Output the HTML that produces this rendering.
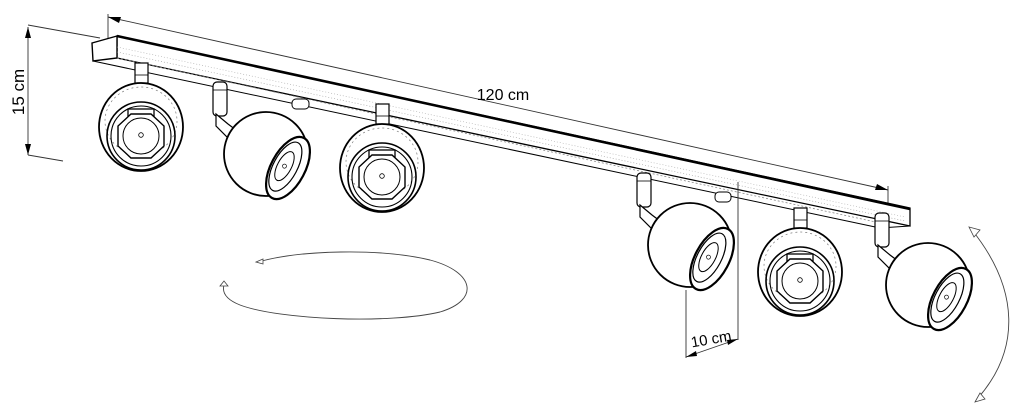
<!DOCTYPE html>
<html><head><meta charset="utf-8"><style>
html,body{margin:0;padding:0;background:#fff;}
svg{display:block;}
text{font-family:"Liberation Sans",Arial,sans-serif;fill:#000;}
</style></head><body>
<svg width="1020" height="419" viewBox="0 0 1020 419" xmlns="http://www.w3.org/2000/svg">
<defs>
  <g id="front">
    <rect x="-6" y="-64" width="13" height="20" fill="#fff" stroke="#000" stroke-width="1.2"/>
    <line x1="-6" y1="-52" x2="7" y2="-52" stroke="#000" stroke-width="0.8"/>
    <ellipse cx="0" cy="0" rx="42" ry="44" fill="#fff" stroke="#000" stroke-width="1.8"/>
    <ellipse cx="0" cy="-6" rx="36" ry="34" fill="none" stroke="#777" stroke-width="0.7" stroke-dasharray="2 3"/>
    <rect x="-13" y="-18" width="26" height="10" fill="#fff" stroke="#000" stroke-width="1.3"/>
    <circle cx="0" cy="9" r="34" fill="none" stroke="#000" stroke-width="1.6"/>
    <circle cx="0" cy="9" r="30" fill="none" stroke="#000" stroke-width="1.1"/>
    <polygon points="-10,-13 10,-13 23,-1 23,19 10,31 -10,31 -23,19 -23,-1" fill="#fff" stroke="#000" stroke-width="1.4"/>
    <circle cx="0" cy="9" r="18" fill="none" stroke="#000" stroke-width="1"/>
    <circle cx="0" cy="8" r="2.3" fill="#fff" stroke="#000" stroke-width="0.8"/>
  </g>
  <g id="side">
    <rect x="-53" y="-72" width="14" height="34" rx="4" fill="#fff" stroke="#000" stroke-width="1.2"/>
    <line x1="-53" y1="-64" x2="-39" y2="-64" stroke="#000" stroke-width="0.8"/>
    <path d="M-50,-40 L-38,-30 L-30,-24 L-38,-16 L-50,-28 Z" fill="#fff" stroke="#000" stroke-width="1.2"/>
    <circle cx="0" cy="0" r="42" fill="#fff" stroke="#000" stroke-width="1.8"/>
    <g transform="translate(22,14) rotate(28)">
      <ellipse cx="0" cy="0" rx="17" ry="34" fill="#fff" stroke="#000" stroke-width="2.2"/>
      <ellipse cx="-3" cy="0" rx="12" ry="27" fill="none" stroke="#000" stroke-width="1.2"/>
      <ellipse cx="-4" cy="0" rx="7" ry="16" fill="none" stroke="#000" stroke-width="1"/>
      <circle cx="-4" cy="0" r="2" fill="none" stroke="#000" stroke-width="0.7"/>
    </g>
  </g>
</defs>

<!-- 15 cm dimension -->
<line x1="28" y1="25" x2="100" y2="38" stroke="#333" stroke-width="0.9"/>
<line x1="28" y1="155" x2="63" y2="161" stroke="#333" stroke-width="0.9"/>
<line x1="28" y1="27" x2="28" y2="155" stroke="#333" stroke-width="0.9"/>
<polygon points="28,27 25,38 31,38" fill="#000"/>
<polygon points="28,155 25,144 31,144" fill="#000"/>
<text transform="translate(24,92) rotate(-90)" font-size="17" text-anchor="middle">15 cm</text>

<!-- 120 cm dimension -->
<line x1="108" y1="14" x2="108" y2="38" stroke="#333" stroke-width="0.9"/>
<line x1="888" y1="186" x2="888" y2="206" stroke="#333" stroke-width="0.9"/>
<line x1="108" y1="17" x2="888" y2="190" stroke="#333" stroke-width="0.9"/>
<polygon points="108,17 121,17 119,23" fill="#000"/>
<polygon points="888,190 875,190 877,184" fill="#000"/>
<text x="503" y="100" font-size="16" text-anchor="middle">120 cm</text>

<!-- bar -->
<polygon points="117,36 910,208 910,226 117,58" fill="#fff" stroke="#000" stroke-width="1.3"/>
<line x1="117" y1="36" x2="910" y2="209" stroke="#000" stroke-width="2.6"/>
<polygon points="92,43 117,36 117,58 93,61" fill="#fff" stroke="#000" stroke-width="1.4"/>
<line x1="93" y1="61" x2="880" y2="228" stroke="#000" stroke-width="1"/>
<line x1="117" y1="58" x2="885" y2="224" stroke="#888" stroke-width="0.8" stroke-dasharray="2 2"/>
<line x1="117" y1="52" x2="905" y2="221" stroke="#999" stroke-width="0.6" stroke-dasharray="1 2"/>
<line x1="117" y1="47" x2="905" y2="217" stroke="#aaa" stroke-width="0.6" stroke-dasharray="1 2"/>
<line x1="880" y1="228" x2="910" y2="226" stroke="#000" stroke-width="1"/>
<!-- connectors -->
<rect x="292" y="99" width="17" height="10" rx="4" fill="#fff" stroke="#000" stroke-width="1"/>
<rect x="715" y="192" width="16" height="10" rx="4" fill="#fff" stroke="#000" stroke-width="1"/>

<!-- spots -->
<use href="#front" x="141" y="127"/>
<use href="#side" x="266" y="154"/>
<use href="#front" x="382" y="168"/>
<use href="#side" x="690" y="245"/>
<use href="#front" x="800" y="272"/>
<use href="#side" x="928" y="285"/>

<!-- 10 cm dimension -->
<line x1="738" y1="182" x2="738" y2="340" stroke="#333" stroke-width="0.9"/>
<line x1="686" y1="290" x2="686" y2="358" stroke="#333" stroke-width="0.9"/>
<line x1="686" y1="357" x2="738" y2="339" stroke="#333" stroke-width="0.9"/>
<polygon points="686,357 696,351 697,356" fill="#000"/>
<polygon points="738,339 728,345 727,340" fill="#000"/>
<text transform="translate(712,344) rotate(-10)" font-size="15" text-anchor="middle">10 cm</text>

<!-- rotation ellipse -->
<path d="M258,262 C300,250 380,248 430,260 C475,272 480,300 440,312 C390,324 280,320 240,305 C225,299 222,292 224,285" fill="none" stroke="#444" stroke-width="0.9"/>
<polygon points="224,281 220,286 228,286" fill="#fff" stroke="#444" stroke-width="0.8"/>
<polygon points="256,262 263,259 263,264" fill="#fff" stroke="#444" stroke-width="0.8"/>

<!-- tilt arc -->
<path d="M972,230 C1020,290 1020,350 978,398" fill="none" stroke="#444" stroke-width="0.9"/>
<polygon points="969,227 980,230 974,237" fill="#fff" stroke="#444" stroke-width="0.8"/>
<polygon points="975,402 980,393 985,399" fill="#fff" stroke="#444" stroke-width="0.8"/>
</svg>
</body></html>
